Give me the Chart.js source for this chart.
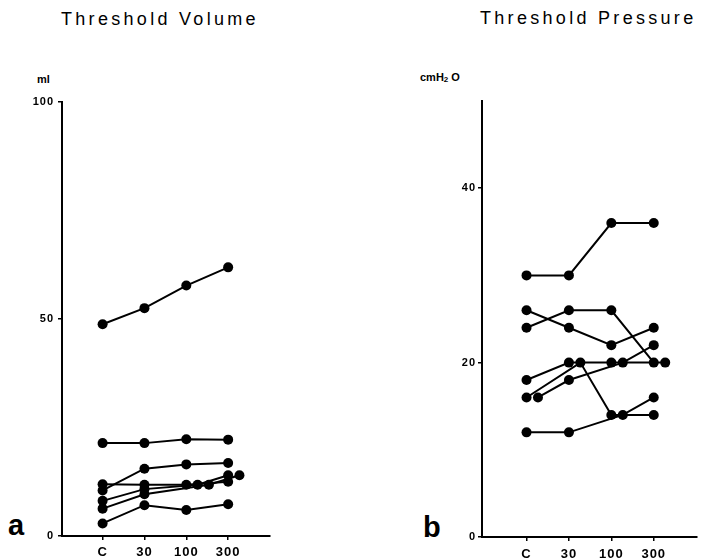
<!DOCTYPE html>
<html><head><meta charset="utf-8">
<script src="https://cdn.jsdelivr.net/npm/chart.js@4.4.1/dist/chart.umd.min.js"></script>
<style>
html,body{margin:0;padding:0;background:#fff;}
body{width:705px;height:559px;position:relative;overflow:hidden;font-family:"Liberation Sans",Arial,sans-serif;color:#000;}
canvas{position:absolute;top:0;}
.t{position:absolute;font-size:18px;letter-spacing:3.3px;white-space:nowrap;line-height:20px;}
.u{position:absolute;font-size:11px;font-weight:bold;white-space:nowrap;line-height:12px;}
.p{position:absolute;font-size:29px;font-weight:bold;line-height:29px;}
</style></head><body>
<div class="t" style="left:61px;top:9px">Threshold Volume</div>
<div class="t" style="left:480px;top:8px">Threshold Pressure</div>
<div class="u" style="left:37px;top:73px">ml</div>
<div class="u" style="left:420px;top:71px">cmH<span style="font-size:8px;vertical-align:-1px">2</span> O</div>
<div class="p" style="left:8px;top:511px">a</div>
<div class="p" style="left:423px;top:513px">b</div>
<canvas id="c1" width="352" height="559" style="left:0;width:352px;height:559px"></canvas>
<canvas id="c2" width="353" height="559" style="left:352px;width:353px;height:559px"></canvas>
<script>
// ---- data ----
const categories = ['C', '30', '100', '300'];
// Threshold Volume (ml), one array per subject
const vol1 = [48.8, 52.5, 57.7, 61.9];
const vol2 = [21.4, 21.4, 22.3, 22.2];
const vol3 = [10.5, 15.5, 16.5, 16.8];
const vol4 = [11.9, 11.8, 11.8, 12.5];
const vol5 = [8.1, 10.8, 11.8, 14.0];
const vol6 = [6.3, 9.6, 11.8, 14.0];
const vol7 = [2.9, 7.1, 6.0, 7.3];
// Threshold Pressure (cmH2O), one array per subject
const pres1 = [30, 30, 36, 36];
const pres2 = [26, 24, 22, 24];
const pres3 = [24, 26, 26, 20];
const pres4 = [18, 20, 20, 20];
const pres5 = [16, 20, 14, 14];
const pres6 = [16, 18, 20, 22];
const pres7 = [12, 12, 14, 16];
const volumeTicks = [0, 50, 100];
const pressureTicks = [0, 20, 40];
const volumeMax = 100;
const pressureMax = 50;

const volumeSeries = [vol1, vol2, vol3, vol4, vol5, vol6, vol7];
const pressureSeries = [pres1, pres2, pres3, pres4, pres5, pres6, pres7];

// coincident values in the same category are displaced sideways (as in the original)
const OVERLAP_SHIFT = 0.27;
function buildDatasets(seriesList) {
  return seriesList.map((vals, s) => ({
    data: vals.map((v, c) => {
      let rank = 0;
      for (let k = 0; k < s; k++) if (seriesList[k][c] === v) rank++;
      return { x: c + rank * OVERLAP_SHIFT, y: v };
    }),
    borderColor: '#000',
    backgroundColor: '#000',
    borderWidth: 2,
    pointRadius: 5,
    pointBorderWidth: 0,
    pointBackgroundColor: '#000',
    tension: 0,
    clip: false
  }));
}

const spacingPlugin = { id: 'ls', beforeDraw(chart) { chart.ctx.letterSpacing = '1px'; } };

function makeChart(id, seriesList, o) {
  return new Chart(document.getElementById(id), {
    type: 'line',
    data: { datasets: buildDatasets(seriesList) },
    plugins: [spacingPlugin],
    options: {
      responsive: false,
      animation: false,
      devicePixelRatio: 1,
      layout: { padding: { top: o.padTop, right: o.padRight, left: 0, bottom: 0 } },
      plugins: { legend: { display: false }, tooltip: { enabled: false } },
      scales: {
        x: {
          type: 'linear', min: o.xMin, max: o.xMax,
          afterBuildTicks: (s) => { s.ticks = categories.map((c, i) => ({ value: i })); },
          afterFit: (s) => { s.height = o.xAxisHeight; },
          ticks: {
            callback: (v) => categories[v],
            color: '#000', padding: o.xPad, maxRotation: 0, autoSkip: false,
            font: { family: 'Liberation Sans', weight: 'bold', size: 13 }
          },
          grid: { display: true, drawOnChartArea: false, drawTicks: true, tickLength: 4, color: '#000', lineWidth: 1.5 },
          border: { display: true, color: '#000', width: 2 }
        },
        y: {
          min: 0, max: o.yMax,
          afterBuildTicks: (s) => { s.ticks = o.yTicks.map(v => ({ value: v })); },
          afterFit: (s) => { s.width = o.yAxisWidth; },
          ticks: {
            color: '#000', padding: o.yPad,
            font: { family: 'Liberation Sans', weight: 'bold', size: 11 }
          },
          grid: { display: true, drawOnChartArea: false, drawTicks: true, tickLength: 4, color: '#000', lineWidth: 1.5 },
          border: { display: true, color: '#000', width: 2 }
        }
      }
    }
  });
}

makeChart('c1', volumeSeries, {
  yMax: volumeMax, yTicks: volumeTicks, xMin: -0.97, xMax: 4.0,
  yAxisWidth: 62, xAxisHeight: 23, padTop: 102, padRight: 82, xPad: 5, yPad: 4
});
makeChart('c2', pressureSeries, {
  yMax: pressureMax, yTicks: pressureTicks, xMin: -1.05, xMax: 4.02,
  yAxisWidth: 130, xAxisHeight: 22, padTop: 101, padRight: 8, xPad: 6, yPad: 2
});
</script>
</body></html>
